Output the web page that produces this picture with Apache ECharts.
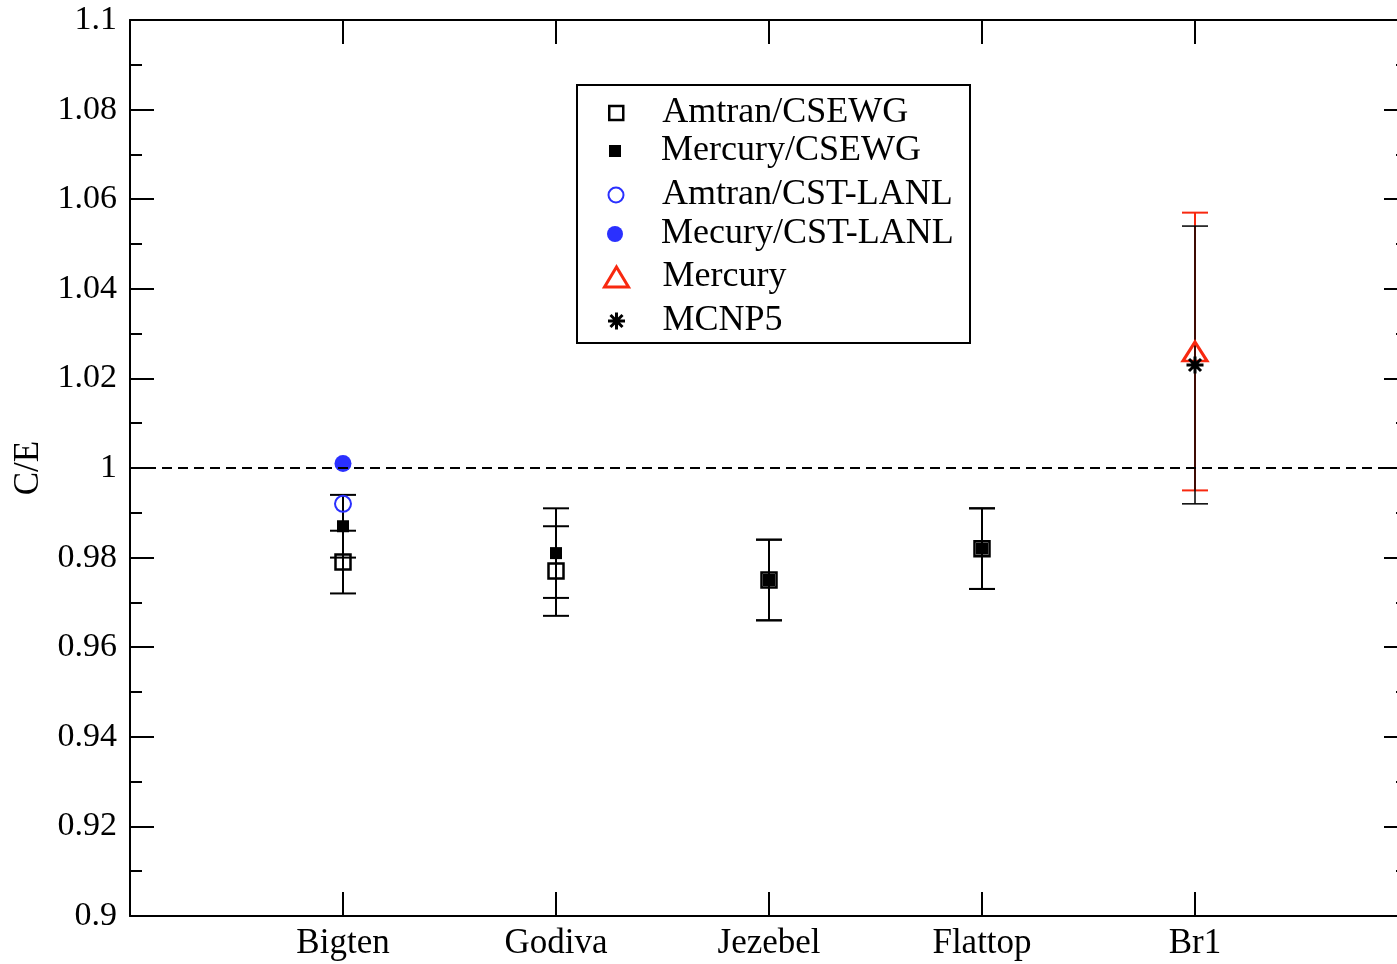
<!DOCTYPE html>
<html>
<head>
<meta charset="utf-8">
<script src="https://cdn.jsdelivr.net/npm/echarts@6/dist/echarts.min.js"></script>
<style>
html,body{margin:0;padding:0;background:#fff;}
#chart{width:1397px;height:964px;}
</style>
</head>
<body>
<div id="chart"></div>
<script>
// ---- data ----
const categories = ['Bigten', 'Godiva', 'Jezebel', 'Flattop', 'Br1'];
const yTicks = [0.9, 0.92, 0.94, 0.96, 0.98, 1, 1.02, 1.04, 1.06, 1.08, 1.1];
const amtranCsewg = [0.979, 0.977, 0.975, 0.982, null];
const amtranCsewgErr = [0.007, 0.010, 0.009, 0.009, null];
const mercuryCsewg = [0.987, 0.981, 0.975, 0.982, null];
const mercuryCsewgErr = [0.007, 0.010, 0.009, 0.009, null];
const amtranCstLanl = [0.992, null, null, null, null];
const mercuryCstLanl = [1.001, null, null, null, null];
const mercuryBr = [null, null, null, null, 1.026];
const mercuryBrErr = [null, null, null, null, 0.031];
const mcnp5 = [null, null, null, null, 1.023];
const mcnp5Err = [null, null, null, null, 0.031];
const referenceValue = 1;

const FONT = 'Liberation Serif';
const BLUE = '#2a30ff';
const RED = '#f8280f';
const ASTER = 'path://M0 -8 L0 8 M-8 0 L8 0 M-5.66 -5.66 L5.66 5.66 M-5.66 5.66 L5.66 -5.66';

function pts(arr) {
  const out = [];
  arr.forEach((v, i) => { if (v != null) out.push([i + 1, v]); });
  return out;
}
function errPts(vals, errs) {
  const out = [];
  vals.forEach((v, i) => { if (v != null && errs[i] != null) out.push([i + 1, v - errs[i], v + errs[i]]); });
  return out;
}
function errSeries(vals, errs, color, lw) {
  return {
    type: 'custom',
    silent: true,
    z: 1,
    data: errPts(vals, errs),
    renderItem: function (params, api) {
      const x = api.value(0), lo = api.value(1), hi = api.value(2);
      const p1 = api.coord([x, hi]), p2 = api.coord([x, lo]);
      const hw = 13;
      const st = { stroke: color, lineWidth: lw };
      return {
        type: 'group',
        children: [
          { type: 'line', shape: { x1: p1[0], y1: p1[1], x2: p2[0], y2: p2[1] }, style: st },
          { type: 'line', shape: { x1: p1[0] - hw, y1: p1[1], x2: p1[0] + hw, y2: p1[1] }, style: st },
          { type: 'line', shape: { x1: p2[0] - hw, y1: p2[1], x2: p2[0] + hw, y2: p2[1] }, style: st }
        ]
      };
    }
  };
}

const legendRows = [
  { name: 'Amtran/CSEWG', cy: 113, w: 14, h: 14, bw: 2.5 },
  { name: 'Mercury/CSEWG', cy: 151, w: 12, h: 12, bw: 0 },
  { name: 'Amtran/CST-LANL', cy: 195, w: 15, h: 15, bw: 2 },
  { name: 'Mecury/CST-LANL', cy: 234, w: 16, h: 16, bw: 0 },
  { name: 'Mercury', cy: 277, w: 24, h: 20, bw: 3 },
  { name: 'MCNP5', cy: 321, w: 17, h: 17, bw: 3 }
];
const legends = legendRows.map(r => ({
  data: [r.name],
  left: 615 - r.w / 2,
  top: r.cy - 19,
  orient: 'vertical',
  padding: 0,
  itemWidth: r.w,
  itemHeight: r.h,
  selectedMode: false,
  itemStyle: { borderWidth: r.bw, opacity: 1 },
  textStyle: {
    fontFamily: FONT, fontSize: 36, color: '#000', lineHeight: 38,
    padding: [0, 0, 0, 46 - r.w / 2 - 5]
  }
}));

const tickStyle = { color: '#000', width: 2 };
const lineStyle = { onZero: false, show: true, lineStyle: tickStyle };
const chart = echarts.init(document.getElementById('chart'));
chart.setOption({
  animation: false,
  backgroundColor: '#fff',
  grid: { left: 130, right: -11, top: 20, bottom: 48, outerBoundsMode: 'none', containLabel: false },
  legend: legends,
  graphic: [{
    type: 'rect', z: 0,
    shape: { x: 577, y: 85, width: 393, height: 258 },
    style: { fill: '#fff', stroke: '#000', lineWidth: 2 }
  }],
  xAxis: [{
    type: 'value', min: 0, max: 6, interval: 1, position: 'bottom',
    axisLine: lineStyle,
    axisTick: { show: true, inside: true, length: 24, lineStyle: tickStyle },
    splitLine: { show: false },
    axisLabel: {
      fontFamily: FONT, fontSize: 35, color: '#000', margin: 10,
      formatter: v => (v >= 1 && v <= categories.length && Number.isInteger(v)) ? categories[v - 1] : ''
    }
  }, {
    type: 'value', min: 0, max: 6, interval: 1, position: 'top',
    axisLine: lineStyle,
    axisTick: { show: true, inside: true, length: 24, lineStyle: tickStyle },
    splitLine: { show: false },
    axisLabel: { show: false }
  }],
  yAxis: [{
    type: 'value', min: 0.9, max: 1.1, interval: 0.02, position: 'left',
    name: 'C/E', nameLocation: 'middle', nameRotate: 90, nameGap: 82,
    nameTextStyle: { fontFamily: FONT, fontSize: 35, color: '#000' },
    axisLine: lineStyle,
    axisTick: { show: true, inside: true, length: 24, lineStyle: tickStyle },
    minorTick: { show: true, splitNumber: 2, length: 12, lineStyle: tickStyle },
    splitLine: { show: false },
    minorSplitLine: { show: false },
    axisLabel: {
      fontFamily: FONT, fontSize: 34, color: '#000', margin: 13,
      formatter: v => {
        const t = yTicks.find(k => Math.abs(k - v) < 1e-9);
        return t != null ? String(t) : '';
      }
    }
  }, {
    type: 'value', min: 0.9, max: 1.1, interval: 0.02, position: 'right',
    axisLine: lineStyle,
    axisTick: { show: true, inside: true, length: 24, lineStyle: tickStyle },
    minorTick: { show: true, splitNumber: 2, length: 12, lineStyle: tickStyle },
    splitLine: { show: false },
    axisLabel: { show: false }
  }],
  series: [
    {
      type: 'line', data: [], silent: true,
      markLine: {
        silent: true, symbol: 'none', animation: false,
        label: { show: false },
        lineStyle: { color: '#000', width: 2, type: [10, 6] },
        data: [{ yAxis: referenceValue }]
      }
    },
    errSeries(mercuryCsewg, mercuryCsewgErr, '#000', 2),
    errSeries(amtranCsewg, amtranCsewgErr, '#000', 2),
    errSeries(mercuryBr, mercuryBrErr, RED, 2),
    errSeries(mcnp5, mcnp5Err, '#000', 1.5),
    {
      name: 'Amtran/CSEWG', type: 'scatter', z: 3, data: pts(amtranCsewg),
      symbol: 'rect', symbolSize: 15,
      itemStyle: { color: 'rgba(0,0,0,0)', borderColor: '#000', borderWidth: 2.5, opacity: 1 }
    },
    {
      name: 'Mercury/CSEWG', type: 'scatter', z: 4, data: pts(mercuryCsewg),
      symbol: 'rect', symbolSize: 12,
      itemStyle: { color: '#000', opacity: 1 }
    },
    {
      name: 'Amtran/CST-LANL', type: 'scatter', z: 3, data: pts(amtranCstLanl),
      symbol: 'circle', symbolSize: 16,
      itemStyle: { color: 'rgba(0,0,0,0)', borderColor: BLUE, borderWidth: 2, opacity: 1 }
    },
    {
      name: 'Mecury/CST-LANL', type: 'scatter', z: 4, data: pts(mercuryCstLanl),
      symbol: 'circle', symbolSize: 17,
      itemStyle: { color: BLUE, opacity: 1 }
    },
    {
      name: 'Mercury', type: 'scatter', z: 4, data: pts(mercuryBr),
      symbol: 'triangle', symbolSize: [24, 19],
      itemStyle: { color: 'rgba(0,0,0,0)', borderColor: RED, borderWidth: 3, opacity: 1 }
    },
    {
      name: 'MCNP5', type: 'scatter', z: 5, data: pts(mcnp5),
      symbol: ASTER, symbolSize: 17,
      itemStyle: { color: 'rgba(0,0,0,0)', borderColor: '#000', borderWidth: 3, opacity: 1 }
    }
  ]
});
</script>
</body>
</html>
